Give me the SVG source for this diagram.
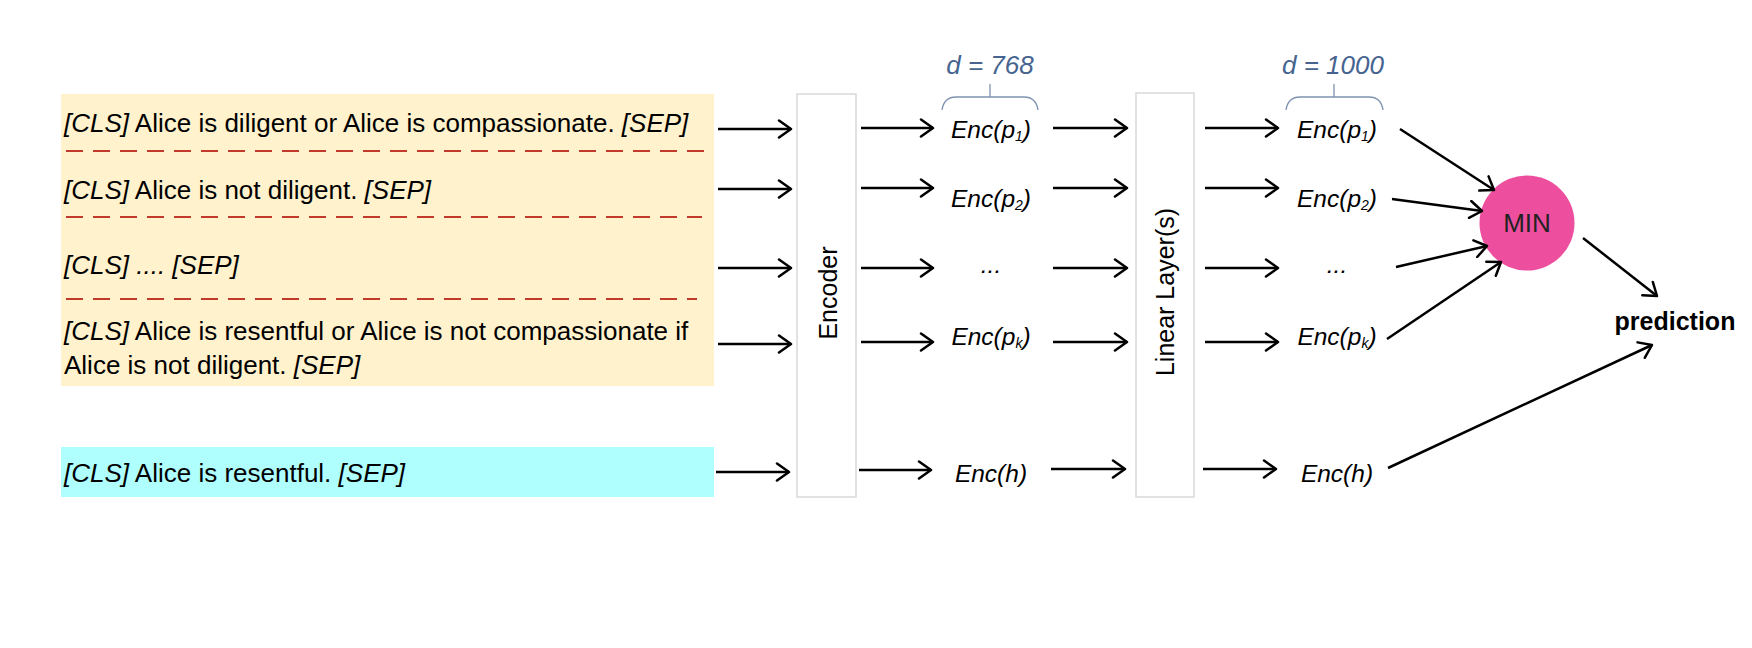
<svg xmlns="http://www.w3.org/2000/svg" width="1752" height="648" viewBox="0 0 1752 648">
<defs>
<marker id="arr" viewBox="-14 -10 16 20" markerWidth="16" markerHeight="20" refX="0" refY="0" orient="auto" markerUnits="userSpaceOnUse">
<path d="M -12 -8.5 L 0 0 L -12 8.5" fill="none" stroke="#000" stroke-width="2.5" stroke-linecap="round" stroke-linejoin="round"/>
</marker>
<style>
.t{font-family:"Liberation Sans",Arial,sans-serif;font-size:26px;fill:#000}
.it{font-style:italic}
.enc{font-family:"Liberation Sans",Arial,sans-serif;font-size:24.5px;font-style:italic;fill:#000;text-anchor:middle}
.sub{font-size:14px}
.dim{font-family:"Liberation Sans",Arial,sans-serif;font-size:26px;font-style:italic;fill:#46648F;text-anchor:middle}
.brace{fill:none;stroke:#7F93B0;stroke-width:1.3}
.dash{stroke:#C0392B;stroke-width:2.2;stroke-dasharray:17 10}
.box{fill:#fff;stroke:#D9D9D9;stroke-width:1.5}
.vlab{font-family:"Liberation Sans",Arial,sans-serif;font-size:25px;fill:#000;text-anchor:middle;dominant-baseline:central}
.c{fill:none;stroke:#000;stroke-width:2.5;marker-end:url(#arr)}
</style>
</defs>
<rect width="1752" height="648" fill="#fff"/>

<g id="premises">
<rect x="61" y="94" width="653" height="292" fill="#FFF2CC"/>
<line class="dash" x1="66" y1="151" x2="708" y2="151"/>
<line class="dash" x1="66" y1="217" x2="702" y2="217"/>
<line class="dash" x1="66" y1="299" x2="697" y2="299"/>
<text class="t" x="64" y="132"><tspan class="it">[CLS]</tspan> Alice is diligent or Alice is compassionate. <tspan class="it">[SEP]</tspan></text>
<text class="t" x="64" y="199"><tspan class="it">[CLS]</tspan> Alice is not diligent. <tspan class="it">[SEP]</tspan></text>
<text class="t it" x="64" y="274">[CLS] .... [SEP]</text>
<text class="t" x="64" y="340"><tspan class="it">[CLS]</tspan> Alice is resentful or Alice is not compassionate if</text>
<text class="t" x="64" y="374">Alice is not diligent. <tspan class="it">[SEP]</tspan></text>
</g>

<g id="hypothesis">
<rect x="61" y="447" width="653" height="50" fill="#AFFFFF"/>
<text class="t" x="64" y="482"><tspan class="it">[CLS]</tspan> Alice is resentful. <tspan class="it">[SEP]</tspan></text>
</g>

<g id="encoder">
<rect class="box" x="797" y="94" width="59" height="403"/>
<text class="vlab" x="828" y="293" transform="rotate(-90 828 293)">Encoder</text>
</g>

<g id="linear">
<rect class="box" x="1136" y="93" width="58" height="404"/>
<text class="vlab" x="1165" y="292" transform="rotate(-90 1165 292)">Linear Layer(s)</text>
</g>

<g id="enc1">
<text class="dim" x="990" y="74">d = 768</text>
<path class="brace" d="M 942 110 Q 944 97 956 97 L 990 97 L 990 84 M 990 97 L 1024 97 Q 1036 97 1038 110"/>
<text class="enc" x="991" y="138">Enc(p<tspan class="sub" dy="3">1</tspan><tspan dy="-3">)</tspan></text>
<text class="enc" x="991" y="207">Enc(p<tspan class="sub" dy="3">2</tspan><tspan dy="-3">)</tspan></text>
<text class="enc" x="991" y="273">...</text>
<text class="enc" x="991" y="345">Enc(p<tspan class="sub" dy="3">k</tspan><tspan dy="-3">)</tspan></text>
<text class="enc" x="991" y="482">Enc(h)</text>
</g>

<g id="enc2">
<text class="dim" x="1333" y="74">d = 1000</text>
<path class="brace" d="M 1286 110 Q 1288 97 1300 97 L 1334 97 L 1334 84 M 1334 97 L 1369 97 Q 1381 97 1383 110"/>
<text class="enc" x="1337" y="138">Enc(p<tspan class="sub" dy="3">1</tspan><tspan dy="-3">)</tspan></text>
<text class="enc" x="1337" y="207">Enc(p<tspan class="sub" dy="3">2</tspan><tspan dy="-3">)</tspan></text>
<text class="enc" x="1337" y="273">...</text>
<text class="enc" x="1337" y="345">Enc(p<tspan class="sub" dy="3">k</tspan><tspan dy="-3">)</tspan></text>
<text class="enc" x="1337" y="482">Enc(h)</text>
</g>

<g id="min">
<circle cx="1527" cy="223" r="47.5" fill="#EE4E9E"/>
<text x="1527" y="232" font-family="Liberation Sans, Arial, sans-serif" font-size="26" fill="#222" text-anchor="middle">MIN</text>
</g>

<g id="prediction">
<text x="1675" y="330" font-family="Liberation Sans, Arial, sans-serif" font-size="25" font-weight="bold" fill="#000" text-anchor="middle">prediction</text>
</g>

<g id="connectors">
<line class="c" x1="718" y1="129" x2="791" y2="129"/>
<line class="c" x1="718" y1="189" x2="791" y2="189"/>
<line class="c" x1="718" y1="268" x2="791" y2="268"/>
<line class="c" x1="718" y1="344" x2="791" y2="344"/>
<line class="c" x1="716" y1="472" x2="789" y2="472"/>

<line class="c" x1="861" y1="128" x2="933" y2="128"/>
<line class="c" x1="861" y1="188" x2="933" y2="188"/>
<line class="c" x1="861" y1="268" x2="933" y2="268"/>
<line class="c" x1="861" y1="342" x2="933" y2="342"/>
<line class="c" x1="859" y1="470" x2="931" y2="470"/>

<line class="c" x1="1053" y1="128" x2="1127" y2="128"/>
<line class="c" x1="1053" y1="188" x2="1127" y2="188"/>
<line class="c" x1="1053" y1="268" x2="1127" y2="268"/>
<line class="c" x1="1053" y1="342" x2="1127" y2="342"/>
<line class="c" x1="1051" y1="469" x2="1125" y2="469"/>

<line class="c" x1="1205" y1="128" x2="1278" y2="128"/>
<line class="c" x1="1205" y1="188" x2="1278" y2="188"/>
<line class="c" x1="1205" y1="268" x2="1278" y2="268"/>
<line class="c" x1="1205" y1="342" x2="1278" y2="342"/>
<line class="c" x1="1203" y1="469" x2="1276" y2="469"/>

<line class="c" x1="1400" y1="129" x2="1494" y2="190"/>
<line class="c" x1="1392" y1="199" x2="1482" y2="211"/>
<line class="c" x1="1396" y1="267" x2="1487" y2="246"/>
<line class="c" x1="1387" y1="339" x2="1501" y2="262"/>
<line class="c" x1="1583" y1="238" x2="1657" y2="296"/>
<line class="c" x1="1388" y1="468" x2="1652" y2="345"/>
</g>
</svg>
